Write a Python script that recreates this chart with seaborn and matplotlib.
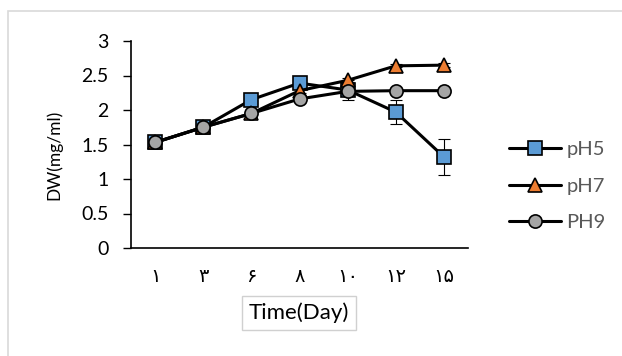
import matplotlib
matplotlib.use("Agg")
import matplotlib.pyplot as plt
import seaborn as sns
import pandas as pd
from matplotlib.patches import Rectangle

days = ["١", "٣", "۶", "٨", "١٠", "١٢", "١۵"]
ph5 = [1.53, 1.75, 2.15, 2.39, 2.29, 1.97, 1.32]
ph5_err = [0.03, 0.03, 0.05, 0.03, 0.14, 0.18, 0.26]
ph7 = [1.53, 1.75, 1.95, 2.28, 2.43, 2.64, 2.65]
ph7_err = [0.02, 0.02, 0.05, 0.03, 0.03, 0.02, 0.03]
ph9 = [1.53, 1.75, 1.95, 2.16, 2.27, 2.28, 2.28]
ph9_err = [0.02, 0.02, 0.03, 0.02, 0.03, 0.02, 0.02]
series_names = ["pH5", "pH7", "PH9"]

sns.set_theme(style="white")
plt.rcParams['font.family'] = ['Lato', 'DejaVu Sans']

rows = []
for name, vals in zip(series_names, [ph5, ph7, ph9]):
    for i, v in enumerate(vals):
        rows.append({"x": i, "day": days[i], "DW": v, "series": name})
df = pd.DataFrame(rows)

fig = plt.figure(figsize=(6.22, 3.56), dpi=100)
ax = fig.add_axes([131/622, 1-248/356, (468-131)/622, (248-41)/356])

markers = {"pH5": "s", "pH7": "^", "PH9": "o"}
colors = {"pH5": "#5B9BD5", "pH7": "#ED7D31", "PH9": "#A5A5A5"}
errs = {"pH5": ph5_err, "pH7": ph7_err, "PH9": ph9_err}
vals_map = {"pH5": ph5, "pH7": ph7, "PH9": ph9}

for name in series_names:
    xs = list(range(len(days)))
    ax.errorbar(xs, vals_map[name], yerr=errs[name], fmt="none",
                ecolor="black", elinewidth=0.8, capsize=4, capthick=0.8, zorder=2)

for name in series_names:
    sub = df[df.series == name]
    sns.lineplot(data=sub, x="x", y="DW", ax=ax, color="black", linewidth=2.2,
                 marker=markers[name], markersize=9.5 if name != "pH7" else 10.5,
                 markerfacecolor=colors[name], markeredgecolor="black",
                 markeredgewidth=1.2, label=name, zorder=3)

ax.set_xlim(-0.5, 6.5)
ax.set_ylim(0, 3)
ax.set_yticks([0, 0.5, 1, 1.5, 2, 2.5, 3])
ax.set_yticklabels(["0", "0.5", "1", "1.5", "2", "2.5", "3"])
ax.set_xticks(range(len(days)))
ax.set_xticklabels(days, family=['DejaVu Sans'], fontsize=14)
for s in ["top", "right"]:
    ax.spines[s].set_visible(False)
for s in ["left", "bottom"]:
    ax.spines[s].set_color("black")
    ax.spines[s].set_linewidth(1.2)
ax.tick_params(axis="y", direction="out", length=6, width=1, color="black",
               labelsize=14, labelcolor="black", pad=10, left=True)
ax.tick_params(axis="x", length=0, labelcolor="black", pad=14)

ax.set_xlabel("")
ax.set_ylabel("")
fig.text(299/622, 1-313/356, "Time(Day)", fontsize=16, color="black",
         ha="center", va="center",
         bbox=dict(boxstyle="square,pad=0.3", fc="white", ec="#D0D0D0", lw=1))
fig.text(54/622, 1-155/356, "DW(mg/ml)", fontsize=12.5, color="black",
         ha="center", va="center", rotation=90)

leg = ax.legend(loc="center left", bbox_to_anchor=(509/622, 1-186/356),
                bbox_transform=fig.transFigure, frameon=False, fontsize=14.5,
                labelspacing=0.98, handlelength=2.6, handletextpad=0.25,
                borderpad=0, borderaxespad=0)
for t in leg.get_texts():
    t.set_color("#595959")

fig.patches.append(Rectangle((8/622, -0.05), 1.1, 1 - 11/356 + 0.05, transform=fig.transFigure,
                             fill=False, ec="#D9D9D9", lw=1.2))

fig.savefig("out.png", dpi=100)
